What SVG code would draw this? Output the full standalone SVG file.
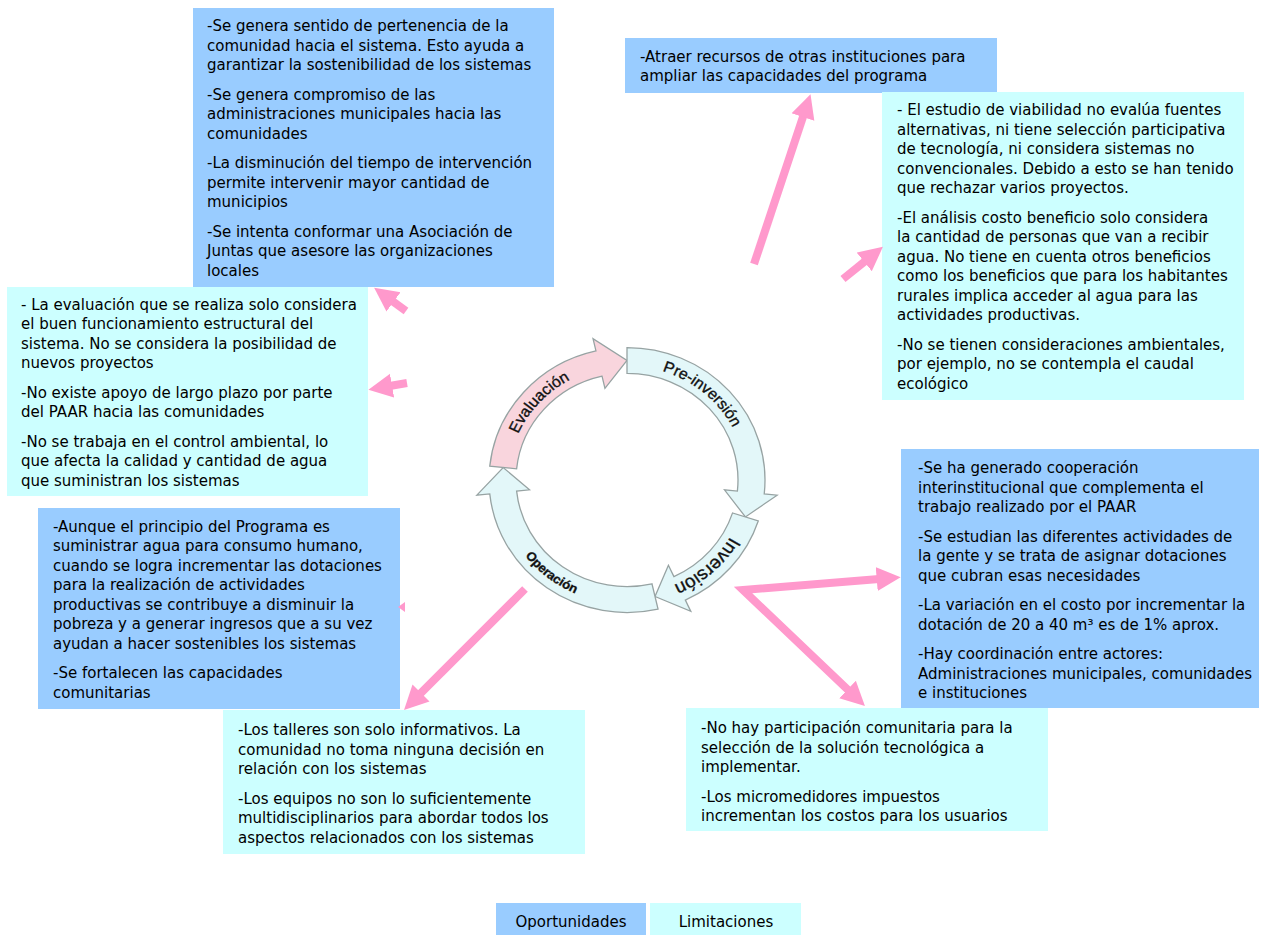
<svg xmlns="http://www.w3.org/2000/svg" width="1262" height="935" viewBox="0 0 1262 935">
<defs>
<style>
.opp{fill:#99CCFF}
.lim{fill:#CCFFFF}
.t{font-family:"DejaVu Sans","Liberation Sans",sans-serif;font-size:15px;fill:#000}
.ring{stroke:#97A3A3;stroke-width:1.3}
.eva{fill:#F9D5DD}
.cyc{fill:#E3F7F9}
.lbl{font-family:"Liberation Sans",Arial,sans-serif;fill:#111;stroke:#111;stroke-width:0.35}
.conn{stroke:#FF99CC;stroke-width:8;fill:none;marker-end:url(#ah)}
</style>
<marker id="ah" viewBox="0 0 10 10" refX="1" refY="5" markerWidth="3" markerHeight="3.2" orient="auto-start-reverse" markerUnits="strokeWidth"><path d="M0,0 L10,5 L0,10 Z" fill="#FF99CC"/></marker>
<path id="pEva" d="M -113.55,35.59 A119,119 0 0 1 25.96,-116.13"/>
<path id="pPre" d="M -40.7,-111.82 A119,119 0 0 1 117.19,20.66"/>
<path id="pInv" d="M 115.47,-28.79 A119,119 0 0 1 -32.8,114.39"/>
<path id="pOpe" d="M -127.75,-17.95 A129,129 0 0 0 48.32,119.61"/>
</defs>
<rect width="1262" height="935" fill="#fff"/>

<g id="node-oport-evaluacion">
<rect class="opp" x="193" y="8" width="361" height="279"/>
<text class="t">
<tspan x="207" y="31">-Se genera sentido de pertenencia de la</tspan>
<tspan x="207" y="50.5">comunidad hacia el sistema. Esto ayuda a</tspan>
<tspan x="207" y="70">garantizar la sostenibilidad de los sistemas</tspan>
<tspan x="207" y="99.5">-Se genera compromiso de las</tspan>
<tspan x="207" y="119">administraciones municipales hacia las</tspan>
<tspan x="207" y="138.5">comunidades</tspan>
<tspan x="207" y="168">-La disminución del tiempo de intervención</tspan>
<tspan x="207" y="187.5">permite intervenir mayor cantidad de</tspan>
<tspan x="207" y="207">municipios</tspan>
<tspan x="207" y="236.5">-Se intenta conformar una Asociación de</tspan>
<tspan x="207" y="256">Juntas que asesore las organizaciones</tspan>
<tspan x="207" y="275.5">locales</tspan>
</text>
</g>

<g id="node-oport-preinversion">
<rect class="opp" x="625" y="38" width="372" height="55"/>
<text class="t">
<tspan x="640" y="61.5">-Atraer recursos de otras instituciones para</tspan>
<tspan x="640" y="81">ampliar las capacidades del programa</tspan>
</text>
</g>

<g id="node-limit-preinversion">
<rect class="lim" x="882" y="92" width="362" height="308"/>
<text class="t">
<tspan x="897" y="115">- El estudio de viabilidad no evalúa fuentes</tspan>
<tspan x="897" y="134.5">alternativas, ni tiene selección participativa</tspan>
<tspan x="897" y="154">de tecnología, ni considera sistemas no</tspan>
<tspan x="897" y="173.5">convencionales. Debido a esto se han tenido</tspan>
<tspan x="897" y="193">que rechazar varios proyectos.</tspan>
<tspan x="897" y="222.5">-El análisis costo beneficio solo considera</tspan>
<tspan x="897" y="242">la cantidad de personas que van a recibir</tspan>
<tspan x="897" y="261.5">agua. No tiene en cuenta otros beneficios</tspan>
<tspan x="897" y="281">como los beneficios que para los habitantes</tspan>
<tspan x="897" y="300.5">rurales implica acceder al agua para las</tspan>
<tspan x="897" y="320">actividades productivas.</tspan>
<tspan x="897" y="349.5">-No se tienen consideraciones ambientales,</tspan>
<tspan x="897" y="369">por ejemplo, no se contempla el caudal</tspan>
<tspan x="897" y="388.5">ecológico</tspan>
</text>
</g>

<g id="node-limit-evaluacion">
<rect class="lim" x="7" y="287" width="361" height="209"/>
<text class="t">
<tspan x="21" y="309.5">- La evaluación que se realiza solo considera</tspan>
<tspan x="21" y="329">el buen funcionamiento estructural del</tspan>
<tspan x="21" y="348.5">sistema. No se considera la posibilidad de</tspan>
<tspan x="21" y="368">nuevos proyectos</tspan>
<tspan x="21" y="397.5">-No existe apoyo de largo plazo por parte</tspan>
<tspan x="21" y="417">del PAAR hacia las comunidades</tspan>
<tspan x="21" y="446.5">-No se trabaja en el control ambiental, lo</tspan>
<tspan x="21" y="466">que afecta la calidad y cantidad de agua</tspan>
<tspan x="21" y="485.5">que suministran los sistemas</tspan>
</text>
</g>

<g id="node-oport-operacion">
<rect class="opp" x="38" y="508" width="362" height="201"/>
<text class="t">
<tspan x="53" y="531.5">-Aunque el principio del Programa es</tspan>
<tspan x="53" y="551">suministrar agua para consumo humano,</tspan>
<tspan x="53" y="570.5">cuando se logra incrementar las dotaciones</tspan>
<tspan x="53" y="590">para la realización de actividades</tspan>
<tspan x="53" y="609.5">productivas se contribuye a disminuir la</tspan>
<tspan x="53" y="629">pobreza y a generar ingresos que a su vez</tspan>
<tspan x="53" y="648.5">ayudan a hacer sostenibles los sistemas</tspan>
<tspan x="53" y="678">-Se fortalecen las capacidades</tspan>
<tspan x="53" y="697.5">comunitarias</tspan>
</text>
</g>

<g id="node-limit-operacion">
<rect class="lim" x="223" y="710" width="362" height="144"/>
<text class="t">
<tspan x="238" y="735">-Los talleres son solo informativos. La</tspan>
<tspan x="238" y="754.5">comunidad no toma ninguna decisión en</tspan>
<tspan x="238" y="774">relación con los sistemas</tspan>
<tspan x="238" y="803.5">-Los equipos no son lo suficientemente</tspan>
<tspan x="238" y="823">multidisciplinarios para abordar todos los</tspan>
<tspan x="238" y="842.5">aspectos relacionados con los sistemas</tspan>
</text>
</g>

<g id="node-oport-inversion">
<rect class="opp" x="901" y="449" width="358" height="259"/>
<text class="t">
<tspan x="918" y="473">-Se ha generado cooperación</tspan>
<tspan x="918" y="492.5">interinstitucional que complementa el</tspan>
<tspan x="918" y="512">trabajo realizado por el PAAR</tspan>
<tspan x="918" y="541.5">-Se estudian las diferentes actividades de</tspan>
<tspan x="918" y="561">la gente y se trata de asignar dotaciones</tspan>
<tspan x="918" y="580.5">que cubran esas necesidades</tspan>
<tspan x="918" y="610">-La variación en el costo por incrementar la</tspan>
<tspan x="918" y="629.5">dotación de 20 a 40 m³ es de 1% aprox.</tspan>
<tspan x="918" y="659">-Hay coordinación entre actores:</tspan>
<tspan x="918" y="678.5">Administraciones municipales, comunidades</tspan>
<tspan x="918" y="698">e instituciones</tspan>
</text>
</g>

<g id="node-limit-inversion">
<rect class="lim" x="686" y="708" width="362" height="123"/>
<text class="t">
<tspan x="701" y="733">-No hay participación comunitaria para la</tspan>
<tspan x="701" y="752.5">selección de la solución tecnológica a</tspan>
<tspan x="701" y="772">implementar.</tspan>
<tspan x="701" y="801.5">-Los micromedidores impuestos</tspan>
<tspan x="701" y="821">incrementan los costos para los usuarios</tspan>
</text>
</g>

<g id="cycle" transform="translate(627,480) scale(1,0.96)">
<g id="node-evaluacion">
<path class="ring eva" d="M -137.24,-14.43 A138,138 0 0 1 -31.04,-134.46 L -33.97,-147.13 L 0,-124.5 L -22.05,-95.49 L -24.97,-108.16 A111,111 0 0 0 -110.39,-11.6 Z"/>
<text class="lbl" font-size="16" text-anchor="middle"><textPath href="#pEva" startOffset="50%">Evaluación</textPath></text>
</g>
<g id="node-preinversion">
<path class="ring cyc" d="M 0,-138 A138,138 0 0 1 137.24,14.43 L 150.17,15.78 L 118.41,38.47 L 97.46,10.24 L 110.39,11.6 A111,111 0 0 0 0,-111 Z"/>
<text class="lbl" font-size="16" text-anchor="middle"><textPath href="#pPre" startOffset="50%">Pre-inversión</textPath></text>
</g>
<g id="node-inversion">
<path class="ring cyc" d="M 131.25,42.64 A138,138 0 0 1 58.32,125.07 L 63.82,136.85 L 28.01,121.31 L 41.42,88.82 L 46.91,100.6 A111,111 0 0 0 105.57,34.3 Z"/>
<text class="lbl" font-size="19" text-anchor="middle"><textPath href="#pInv" startOffset="52%">Inversión</textPath></text>
</g>
<g id="node-operacion">
<path class="ring cyc" d="M 31.04,134.46 A138,138 0 0 1 -137.24,14.43 L -150.17,15.78 L -123.82,-13.01 L -97.46,10.24 L -110.39,11.6 A111,111 0 0 0 24.97,108.16 Z"/>
<text class="lbl" font-size="13" font-weight="bold" text-anchor="middle"><textPath href="#pOpe" startOffset="50%">Operación</textPath></text>
</g>
</g>

<g id="connectors">
<line class="conn" x1="754" y1="264" x2="803.7" y2="114.8"/>
<line class="conn" x1="843" y1="279" x2="866.1" y2="260.4"/>
<line class="conn" x1="406" y1="311" x2="391.6" y2="300.5"/>
<line class="conn" x1="407" y1="383" x2="389.7" y2="386"/>
<line class="conn" x1="525" y1="589" x2="419.3" y2="694.7"/>
<path class="conn" style="marker-start:url(#ah)" d="M 879.1,578.9 L 743,590 L 849.3,691.2"/>
<polygon points="398,607 405,602 405,612" fill="#FF99CC"/>
</g>

<g id="legend">
<rect class="opp" x="496" y="903" width="150" height="32"/>
<rect class="lim" x="650" y="903" width="151" height="32"/>
<text class="t" x="571" y="927" text-anchor="middle">Oportunidades</text>
<text class="t" x="726" y="927" text-anchor="middle">Limitaciones</text>
</g>
</svg>
